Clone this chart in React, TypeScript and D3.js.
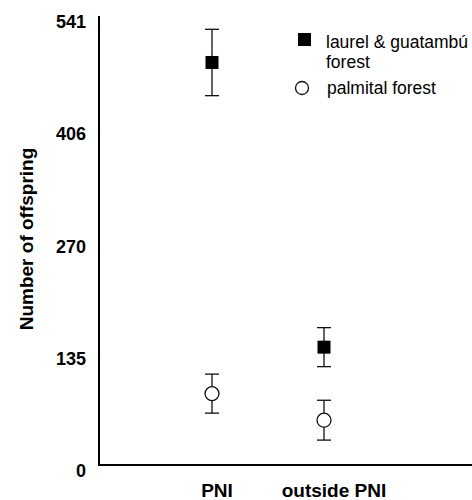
import React, { useRef, useEffect } from 'react';
import * as d3 from 'd3';

const categories = ['PNI', 'outside PNI'];
const seriesNames = ['laurel & guatambú forest', 'palmital forest'];
const laurelMeans = [485, 142];
const laurelErrors = [40, 23.5];
const palmitalMeans = [86, 54];
const palmitalErrors = [23.5, 24];
const yTicks = [0, 135, 270, 406, 541];

const FONT = '"Liberation Sans", Arial, Helvetica, sans-serif';

const App = () => {
  const svgRef = useRef<SVGSVGElement>(null);

  useEffect(() => {
    const svg = d3.select(svgRef.current);
    svg.selectAll('*').remove();

    const width = 472;
    const height = 500;
    const left = 99;
    const top = 16;
    const bottom = 465;

    const y = d3.scaleLinear().domain([0, 541]).range([bottom, top]);
    const x = d3.scalePoint<string>().domain(categories).range([212, 324]);

    // axes
    svg.append('line')
      .attr('x1', left).attr('x2', left)
      .attr('y1', top).attr('y2', bottom + 1)
      .style('stroke', '#000').style('stroke-width', 2);
    svg.append('line')
      .attr('x1', left - 1).attr('x2', width)
      .attr('y1', bottom).attr('y2', bottom)
      .style('stroke', '#000').style('stroke-width', 2);

    // tick labels
    svg.selectAll('text.ytick')
      .data(yTicks)
      .enter()
      .append('text')
      .attr('class', 'ytick')
      .text(d => d)
      .attr('x', 86)
      .attr('y', d => y(d) + 12)
      .attr('text-anchor', 'end')
      .style('font-family', FONT)
      .style('font-size', '18px')
      .style('font-weight', 'bold');

    // category labels
    const labelShift = [5, 10];
    svg.selectAll('text.xcat')
      .data(categories)
      .enter()
      .append('text')
      .attr('class', 'xcat')
      .text(d => d)
      .attr('x', (d, i) => (x(d) as number) + labelShift[i])
      .attr('y', 497)
      .attr('text-anchor', 'middle')
      .style('font-family', FONT)
      .style('font-size', '19px')
      .style('font-weight', 'bold');

    // y title
    svg.append('text')
      .text('Number of offspring')
      .attr('transform', `translate(33,239) rotate(-90)`)
      .attr('text-anchor', 'middle')
      .style('font-family', FONT)
      .style('font-size', '19px')
      .style('font-weight', 'bold');

    const drawErrors = (means: number[], errs: number[]) => {
      categories.forEach((c, i) => {
        const cx = x(c) as number;
        const hi = y(means[i] + errs[i]);
        const lo = y(means[i] - errs[i]);
        const g = svg.append('g').style('stroke', '#111').style('stroke-width', 1.3);
        g.append('line').attr('x1', cx).attr('x2', cx).attr('y1', hi).attr('y2', lo);
        g.append('line').attr('x1', cx - 7).attr('x2', cx + 7).attr('y1', hi).attr('y2', hi);
        g.append('line').attr('x1', cx - 7).attr('x2', cx + 7).attr('y1', lo).attr('y2', lo);
      });
    };

    drawErrors(laurelMeans, laurelErrors);
    drawErrors(palmitalMeans, palmitalErrors);

    // laurel squares
    svg.selectAll('rect.laurel')
      .data(laurelMeans)
      .enter()
      .append('rect')
      .attr('class', 'laurel')
      .attr('x', (d, i) => (x(categories[i]) as number) - 6.5)
      .attr('y', d => y(d) - 6.5)
      .attr('width', 13)
      .attr('height', 13)
      .style('fill', '#000');

    // palmital circles
    svg.selectAll('circle.palmital')
      .data(palmitalMeans)
      .enter()
      .append('circle')
      .attr('class', 'palmital')
      .attr('cx', (d, i) => x(categories[i]) as number)
      .attr('cy', d => y(d))
      .attr('r', 7)
      .style('fill', '#fff')
      .style('stroke', '#111')
      .style('stroke-width', 1.3);

    // legend
    const legend = svg.append('g');
    legend.append('rect')
      .attr('x', 298).attr('y', 33)
      .attr('width', 13).attr('height', 13)
      .style('fill', '#000');
    const t1 = legend.append('text')
      .attr('x', 326).attr('y', 48)
      .style('font-family', FONT)
      .style('font-size', '17.5px');
    t1.append('tspan').attr('x', 326).text(seriesNames[0].replace(' forest', ''));
    t1.append('tspan').attr('x', 326).attr('dy', 20).text('forest');

    legend.append('circle')
      .attr('cx', 302).attr('cy', 88).attr('r', 6.5)
      .style('fill', '#fff')
      .style('stroke', '#111')
      .style('stroke-width', 1.3);
    legend.append('text')
      .text(seriesNames[1])
      .attr('x', 327).attr('y', 94)
      .style('font-family', FONT)
      .style('font-size', '17.5px');
  }, []);

  return (
    <svg
      ref={svgRef}
      width="472"
      height="500"
      style={{ position: 'absolute', left: 0, top: 0, background: '#fff' }}
    ></svg>
  );
};

export default App;
